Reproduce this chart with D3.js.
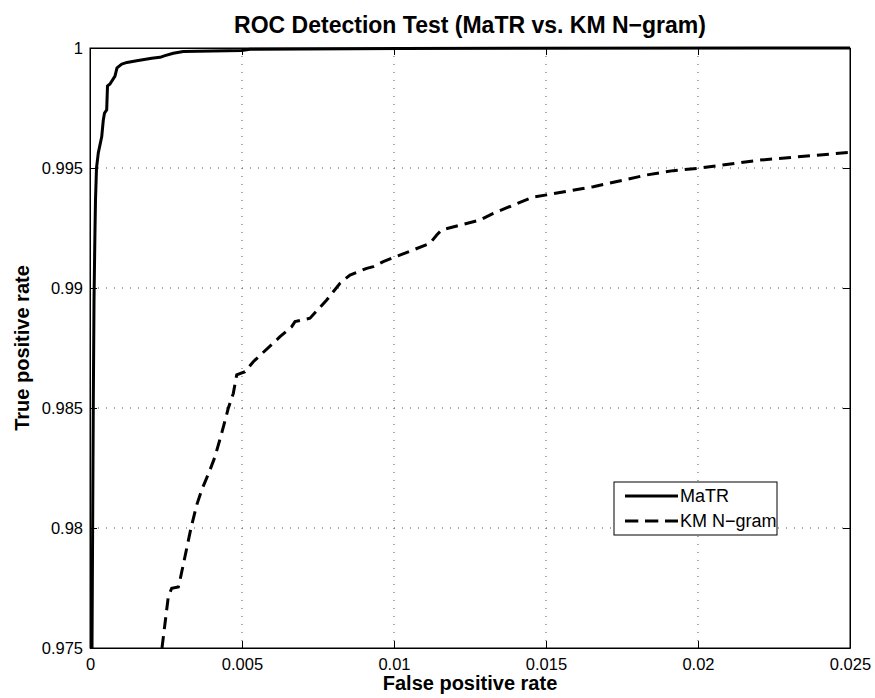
<!DOCTYPE html>
<html>
<head>
<meta charset="utf-8">
<script src="https://cdn.jsdelivr.net/npm/d3@7"></script>
<style>
  body { margin: 0; background: #fff; }
  text { font-family: "Liberation Sans", Arial, Helvetica, sans-serif; }
</style>
</head>
<body>
<div id="chart"></div>
<script>
// values
var xTicks = [0, 0.005, 0.01, 0.015, 0.02, 0.025]
var yTicks = [0.975, 0.98, 0.985, 0.99, 0.995, 1]
var xTickLabels = ['0', '0.005', '0.01', '0.015', '0.02', '0.025']
var yTickLabels = ['0.975', '0.98', '0.985', '0.99', '0.995', '1']
var seriesNames = ['MaTR', 'KM N\u2212gram']

var matrFpr = [0.000066, 0.000109, 0.000132, 0.000164, 0.000181, 0.000214, 0.000273, 0.000385,
  0.000438, 0.000477, 0.000549, 0.000576, 0.000658, 0.000822, 0.000888, 0.001043, 0.001217,
  0.001536, 0.00203, 0.002303, 0.002467, 0.00274, 0.003069, 0.00499, 0.005263, 0.0102, 0.025]
var matrTpr = [0.975, 0.98533, 0.9895, 0.99242, 0.99367, 0.995, 0.99563, 0.9963,
  0.997, 0.99729, 0.99742, 0.99842, 0.9985, 0.99883, 0.99917, 0.99933, 0.9994,
  0.99947, 0.99957, 0.99961, 0.99968, 0.99978, 0.99985, 0.9999, 0.99995, 0.99998, 1.0]

var kmFpr = [0.002368, 0.002576, 0.002688, 0.002905, 0.002961, 0.003322, 0.00351, 0.003674,
  0.003947, 0.004112, 0.004332, 0.004549, 0.004714, 0.004826, 0.005099, 0.005372, 0.00625,
  0.006635, 0.006743, 0.007237, 0.007786, 0.008224, 0.008553, 0.009102, 0.009319, 0.009648,
  0.011184, 0.011405, 0.011569, 0.012829, 0.013266, 0.014474, 0.014638, 0.015023, 0.016556,
  0.018313, 0.019188, 0.02001, 0.022039, 0.025]
var kmTpr = [0.975, 0.97714, 0.97749, 0.97754, 0.97783, 0.98, 0.98096, 0.98158,
  0.98242, 0.98297, 0.98395, 0.98499, 0.98561, 0.98638, 0.98651, 0.98693, 0.98797,
  0.98839, 0.9886, 0.98874, 0.9895, 0.9902, 0.99054, 0.99082, 0.99089, 0.9911,
  0.99186, 0.99221, 0.99242, 0.99283, 0.99311, 0.99374, 0.9938, 0.99388, 0.99422,
  0.99471, 0.99489, 0.99499, 0.99533, 0.99565]

var width = 875
var height = 698
var margin = { top: 48, right: 25, bottom: 50, left: 90 }
var plotW = width - margin.left - margin.right
var plotH = height - margin.top - margin.bottom

var svg = d3.select('#chart').append('svg')
  .attr('width', width)
  .attr('height', height)

var g = svg.append('g')
  .attr('transform', 'translate(' + margin.left + ',' + margin.top + ')')

var x = d3.scaleLinear().domain([0, 0.025]).range([0, plotW])
var y = d3.scaleLinear().domain([0.975, 1]).range([plotH, 0])

// dotted grid
g.selectAll('.vgrid').data(xTicks.slice(1, -1)).enter().append('line')
  .attr('x1', function (d) { return x(d) }).attr('x2', function (d) { return x(d) })
  .attr('y1', 0).attr('y2', plotH)
  .attr('stroke', '#555').attr('stroke-width', 1).attr('stroke-dasharray', '1,7')
g.selectAll('.hgrid').data(yTicks.slice(1, -1)).enter().append('line')
  .attr('y1', function (d) { return y(d) }).attr('y2', function (d) { return y(d) })
  .attr('x1', 0).attr('x2', plotW)
  .attr('stroke', '#555').attr('stroke-width', 1).attr('stroke-dasharray', '1,7')

// axes, ticks pointing inward, labels on bottom and left
var xAxis = d3.axisBottom(x).tickValues(xTicks)
  .tickFormat(function (d, i) { return xTickLabels[i] })
  .tickSizeInner(-7).tickSizeOuter(0).tickPadding(10)
var yAxis = d3.axisLeft(y).tickValues(yTicks)
  .tickFormat(function (d, i) { return yTickLabels[i] })
  .tickSizeInner(-7).tickSizeOuter(0).tickPadding(7)

var gx = g.append('g').attr('transform', 'translate(0,' + plotH + ')').call(xAxis)
var gy = g.append('g').call(yAxis)
g.append('g').call(d3.axisTop(x).tickValues(xTicks).tickFormat('').tickSizeInner(-7).tickSizeOuter(0))
g.append('g').attr('transform', 'translate(' + plotW + ',0)')
  .call(d3.axisRight(y).tickValues(yTicks).tickFormat('').tickSizeInner(-7).tickSizeOuter(0))

svg.selectAll('.domain, .tick line').attr('stroke', '#000')
gx.selectAll('text').attr('font-size', 16.5).attr('fill', '#000')
gy.selectAll('text').attr('font-size', 16.5).attr('fill', '#000')

g.append('rect')
  .attr('width', plotW).attr('height', plotH)
  .attr('fill', 'none').attr('stroke', '#000').attr('stroke-width', 1)

// curves
var line = d3.line()
  .x(function (d) { return x(d[0]) })
  .y(function (d) { return y(d[1]) })

var matr = d3.zip(matrFpr, matrTpr)
var km = d3.zip(kmFpr, kmTpr)

g.append('path').datum(matr)
  .attr('d', line)
  .attr('fill', 'none').attr('stroke', '#000').attr('stroke-width', 3)
  .attr('stroke-linejoin', 'round')

g.append('path').datum(km)
  .attr('d', line)
  .attr('fill', 'none').attr('stroke', '#000').attr('stroke-width', 3)
  .attr('stroke-dasharray', '12,7')

// legend
var lg = svg.append('g').attr('transform', 'translate(614,482)')
lg.append('rect').attr('width', 163).attr('height', 53)
  .attr('fill', '#fff').attr('stroke', '#000').attr('stroke-width', 1)
lg.append('line').attr('x1', 11).attr('x2', 64).attr('y1', 14).attr('y2', 14)
  .attr('stroke', '#000').attr('stroke-width', 3)
lg.append('line').attr('x1', 11).attr('x2', 64).attr('y1', 39).attr('y2', 39)
  .attr('stroke', '#000').attr('stroke-width', 3).attr('stroke-dasharray', '13.3,6.7')
lg.selectAll('.lt').data(seriesNames).enter().append('text')
  .attr('x', 66).attr('y', function (d, i) { return 20 + i * 25 })
  .attr('font-size', 18).text(function (d) { return d })

// title and axis labels
svg.append('text')
  .attr('x', margin.left + plotW / 2).attr('y', 33)
  .attr('text-anchor', 'middle').attr('font-size', 23).attr('font-weight', 'bold')
  .text('ROC Detection Test (MaTR vs. KM N\u2212gram)')

svg.append('text')
  .attr('x', margin.left + plotW / 2).attr('y', 690)
  .attr('text-anchor', 'middle').attr('font-size', 20).attr('font-weight', 'bold')
  .text('False positive rate')

svg.append('text')
  .attr('transform', 'translate(29,' + (margin.top + plotH / 2) + ') rotate(-90)')
  .attr('text-anchor', 'middle').attr('font-size', 20).attr('font-weight', 'bold')
  .text('True positive rate')
</script>
</body>
</html>
